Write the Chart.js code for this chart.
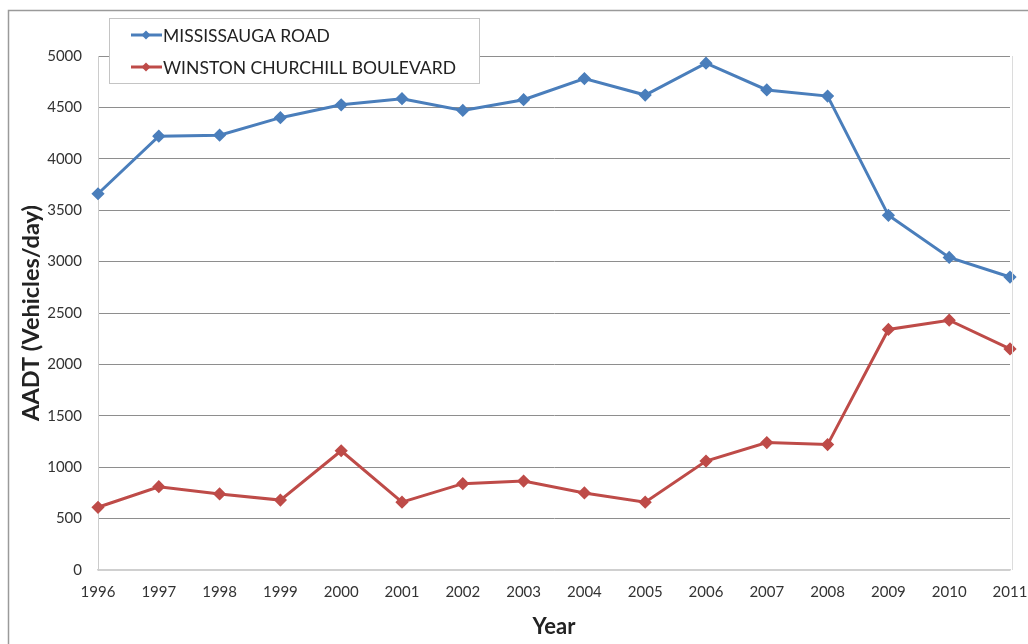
<!DOCTYPE html>
<html>
<head>
<meta charset="utf-8">
<title>AADT</title>
<script src="https://cdn.jsdelivr.net/npm/chart.js@4.4.1/dist/chart.umd.min.js"></script>
<style>
  body { margin: 0; background: #ffffff; }
  #wrap { width: 1028px; height: 644px; }
</style>
</head>
<body>
<div id="wrap"><canvas id="aadtchart" width="1028" height="644"></canvas></div>
<script>
// data
const years = ['1996','1997','1998','1999','2000','2001','2002','2003','2004','2005','2006','2007','2008','2009','2010','2011'];
const mississauga = [3660,4220,4230,4400,4525,4585,4470,4575,4780,4620,4930,4670,4610,3450,3040,2850];
const winston = [610,810,740,680,1160,660,840,865,750,660,1060,1240,1220,2340,2430,2150];
const seriesNames = ['MISSISSAUGA ROAD','WINSTON CHURCHILL BOULEVARD'];
const yTicks = { min: 0, max: 5000, step: 500 };

const blue = '#4a7ebb';
const red = '#be4b48';
const fontFamily = 'Lato, "Liberation Sans", sans-serif';

// white page, outer frame and the light right edge of the plot area
const frame = {
    id: 'frame',
    beforeDraw(chart) {
        const c = chart.ctx;
        c.save();
        c.fillStyle = '#ffffff';
        c.fillRect(0, 0, chart.width, chart.height);
        c.strokeStyle = '#9a9a9a';
        c.lineWidth = 1.5;
        c.strokeRect(8.5, 10.5, chart.width + 20, chart.height + 20);
        c.restore();
    },
    afterDatasetsDraw(chart) {
        const a = chart.chartArea;
        const c = chart.ctx;
        c.save();
        c.strokeStyle = '#dcdcdc';
        c.lineWidth = 1;
        c.beginPath();
        c.moveTo(a.right + 2.5, a.top);
        c.lineTo(a.right + 2.5, a.bottom);
        c.stroke();
        c.restore();
    }
};

// excel style legend box sitting inside the plot
const boxLegend = {
    id: 'boxLegend',
    afterDraw(chart) {
        const c = chart.ctx;
        c.save();
        c.fillStyle = '#ffffff';
        c.fillRect(109, 18, 370, 65);
        c.strokeStyle = '#c4c4c4';
        c.lineWidth = 1;
        c.strokeRect(109.5, 18.5, 370, 65);
        c.font = '17.5px ' + fontFamily;
        c.textBaseline = 'middle';
        chart.data.datasets.forEach(function(ds, i) {
            const y = 35 + i * 32;
            c.strokeStyle = ds.borderColor;
            c.lineWidth = 3;
            c.beginPath();
            c.moveTo(131, y);
            c.lineTo(162, y);
            c.stroke();
            c.fillStyle = ds.borderColor;
            c.beginPath();
            c.moveTo(146, y - 4.5);
            c.lineTo(150.5, y);
            c.lineTo(146, y + 4.5);
            c.lineTo(141.5, y);
            c.closePath();
            c.fill();
            c.fillStyle = '#222222';
            c.fillText(ds.label, 163, y + 1);
        });
        c.restore();
    }
};

new Chart(document.getElementById('aadtchart'), {
    type: 'line',
    data: {
        labels: years,
        datasets: [
            {
                label: seriesNames[0],
                data: mississauga,
                borderColor: blue,
                backgroundColor: blue,
                borderWidth: 3,
                pointStyle: 'rectRot',
                pointRadius: 4.5,
                tension: 0
            },
            {
                label: seriesNames[1],
                data: winston,
                borderColor: red,
                backgroundColor: red,
                borderWidth: 3,
                pointStyle: 'rectRot',
                pointRadius: 4.5,
                tension: 0
            }
        ]
    },
    options: {
        responsive: false,
        animation: false,
        devicePixelRatio: 1,
        layout: { padding: { left: 8, right: 18, top: 56, bottom: 4 } },
        plugins: {
            legend: { display: false },
            tooltip: { enabled: false }
        },
        scales: {
            x: {
                offset: false,
                grid: { display: false, drawTicks: false },
                border: { color: '#cfcfcf', width: 1.5 },
                ticks: {
                    autoSkip: false,
                    maxRotation: 0,
                    padding: 13,
                    color: '#333333',
                    font: { family: fontFamily, size: 15 }
                },
                title: {
                    display: true,
                    text: 'Year',
                    color: '#222222',
                    padding: { top: 0, bottom: 0 },
                    font: { family: fontFamily, size: 22, weight: 'bold' }
                },
                afterFit: function(scale) {
                    scale.height = 70;
                    scale.paddingLeft = 0;
                    scale.paddingRight = 0;
                }
            },
            y: {
                min: yTicks.min,
                max: yTicks.max,
                grid: {
                    drawTicks: false,
                    color: function(ctx) { return ctx.tick && ctx.tick.value === 0 ? '#d0d0d0' : '#8e8e8e'; },
                    lineWidth: 1
                },
                border: { color: '#cccccc', width: 1 },
                ticks: {
                    stepSize: yTicks.step,
                    padding: 16,
                    color: '#333333',
                    font: { family: fontFamily, size: 15 },
                    callback: function(v) { return String(v); }
                },
                title: {
                    display: true,
                    text: 'AADT (Vehicles/day)',
                    color: '#222222',
                    padding: { top: 9, bottom: 0 },
                    font: { family: fontFamily, size: 23.5, weight: 'bold' }
                },
                afterFit: function(scale) { scale.width = 90; }
            }
        }
    },
    plugins: [frame, boxLegend]
});
</script>
</body>
</html>
